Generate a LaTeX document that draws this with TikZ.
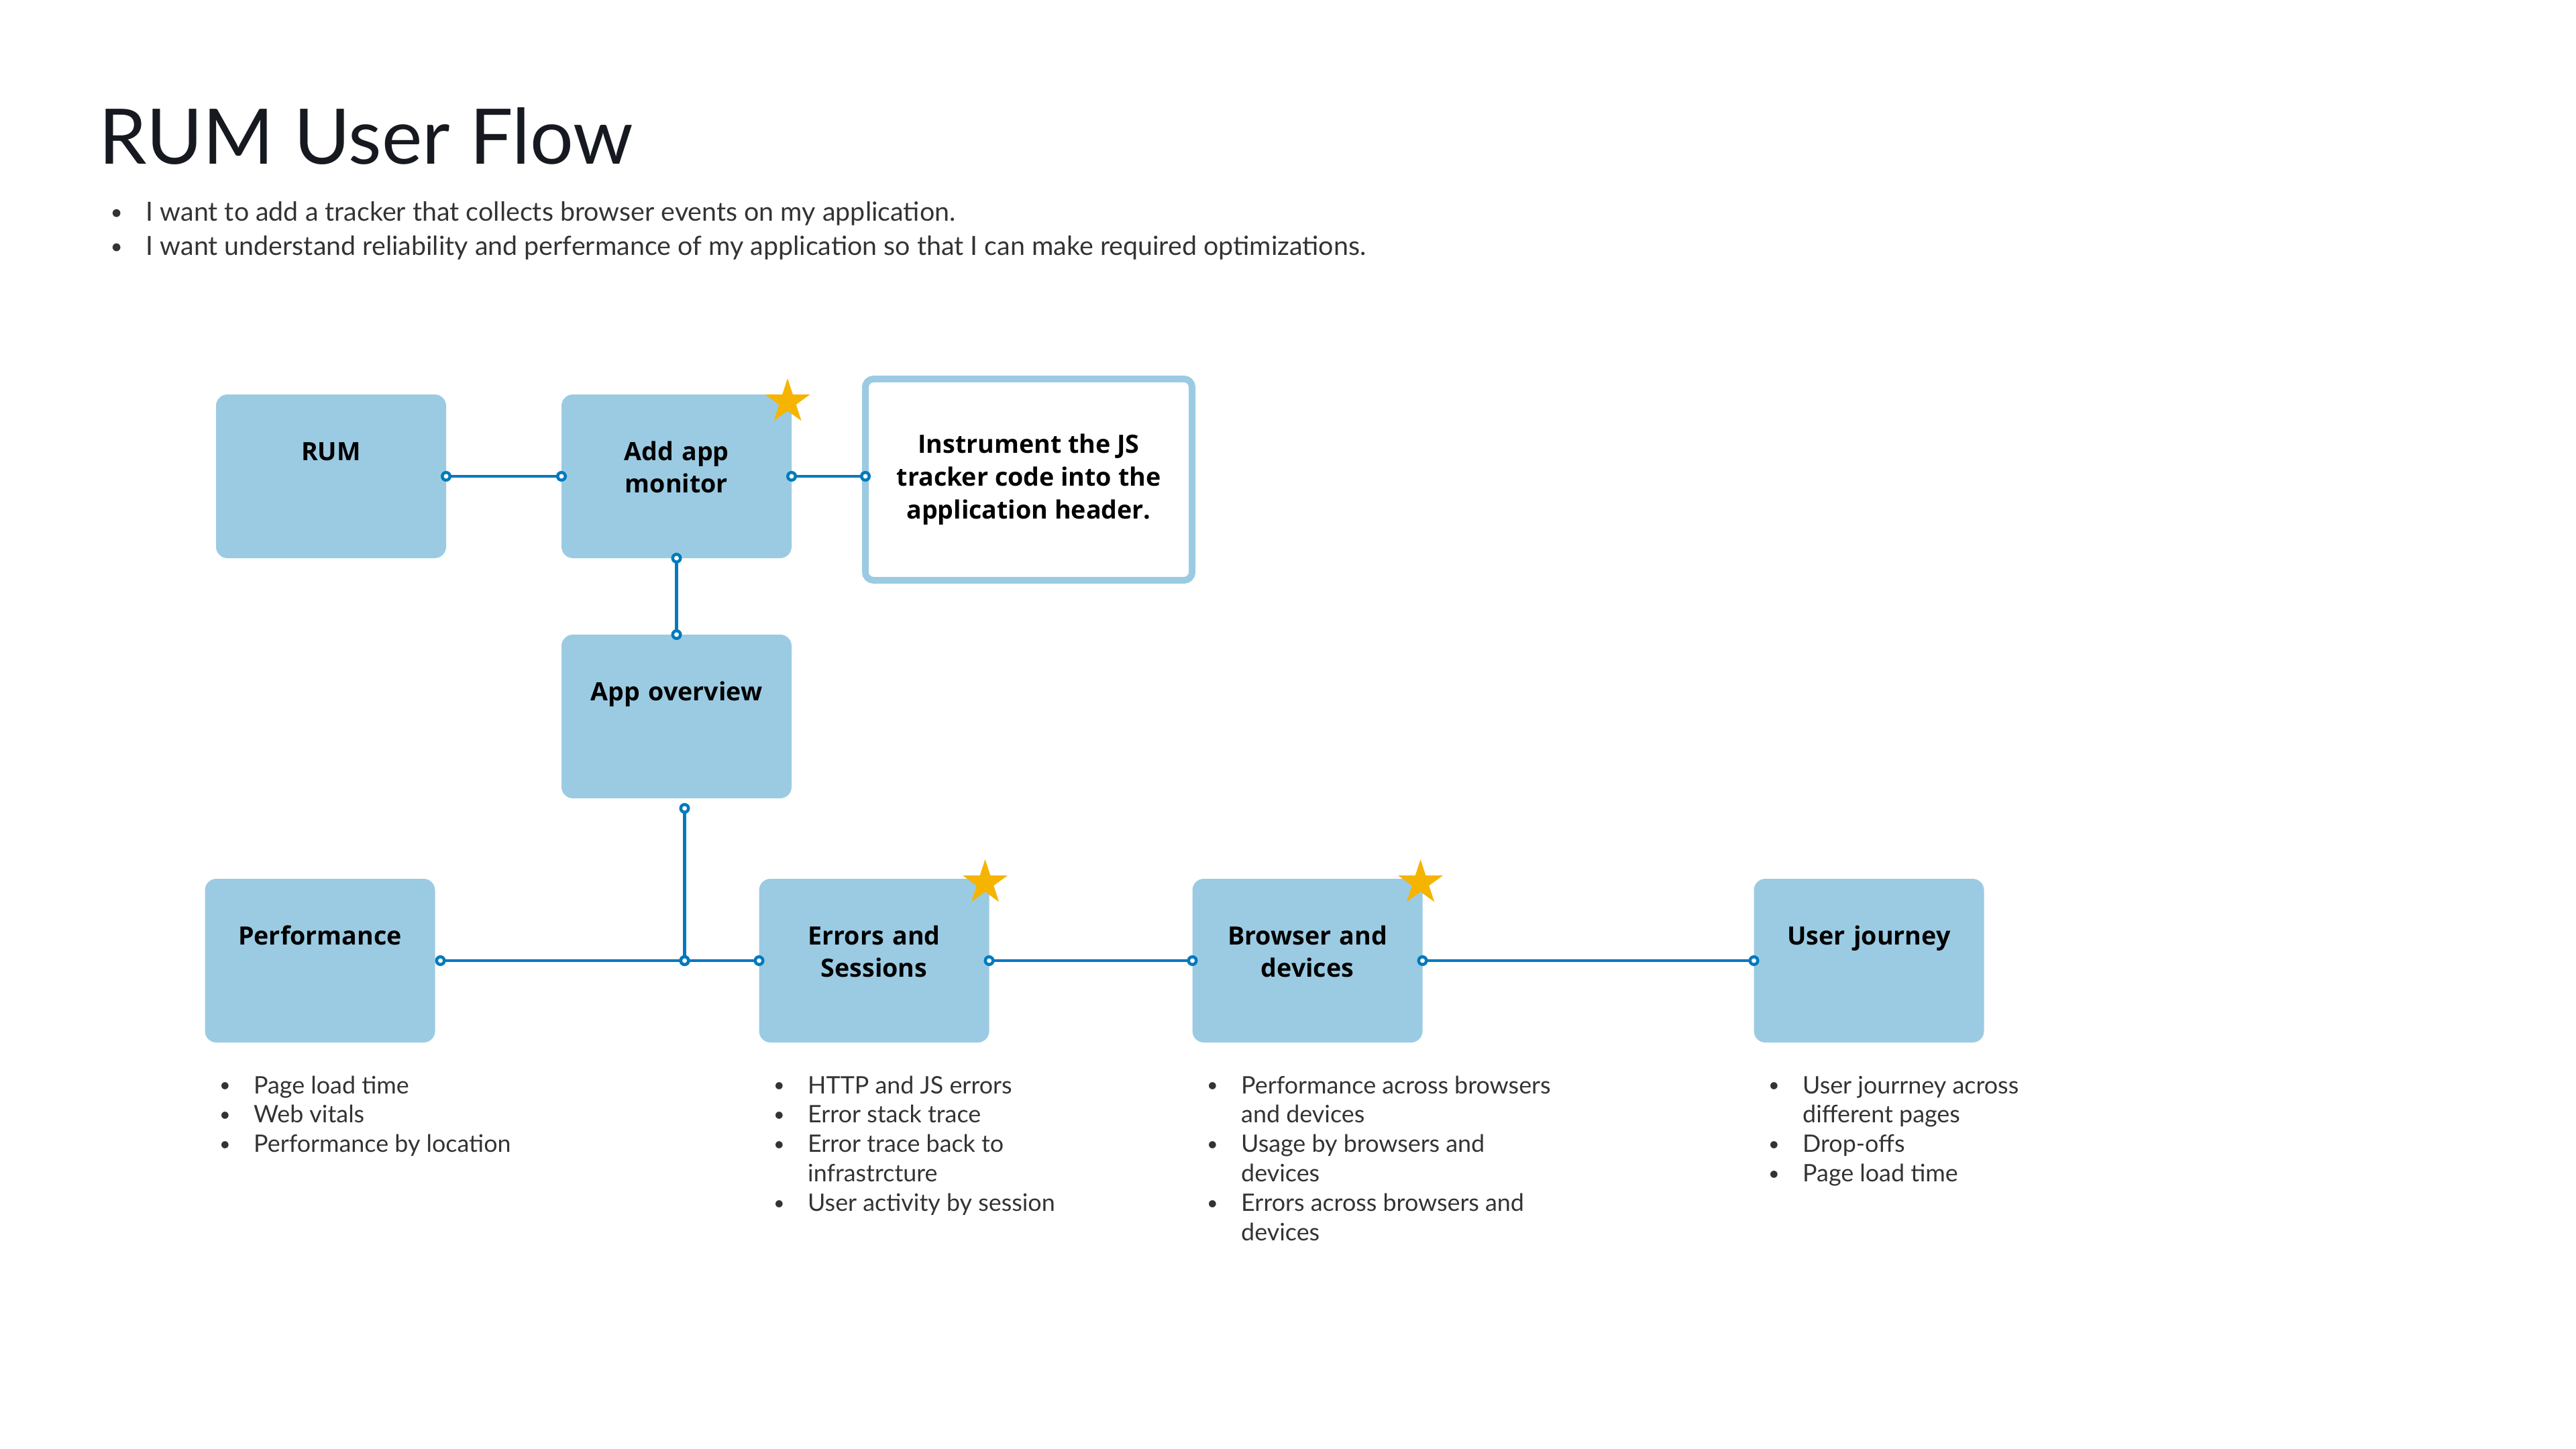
\documentclass[tikz,border=0pt]{standalone}
\usepackage{fontspec}
\setmainfont{Lato}
\newfontfamily\labelfont{Open Sans}
\usepackage{graphicx}
\usepackage{tikz}
\usetikzlibrary{positioning,shapes.geometric,arrows.meta}
\definecolor{boxblue}{HTML}{9BCBE3}
\definecolor{linkblue}{HTML}{007ABD}
\definecolor{staryellow}{HTML}{F5B400}
\definecolor{textgray}{HTML}{333333}
\definecolor{titlegray}{HTML}{16191F}
\newcommand{\dotmark}{\raisebox{0.06em}{\scalebox{0.8}{\textbullet}}}
\tikzset{
  blue box/.style={
    fill=boxblue,
    rounded corners=0.17cm,
    outer sep=0pt,
    text width=3.23cm,
    align=center,
    inner xsep=0.1cm,
    inner ysep=0.7cm,
    text height=0.28cm,
    text depth=0.76cm,
    font=\labelfont\fontsize{10.7}{13.9}\selectfont\bfseries,
  },
  note box/.style={
    draw=boxblue,
    line width=0.1cm,
    fill=white,
    rounded corners=0.12cm,
    outer sep=0pt,
    minimum width=4.87cm,
    minimum height=3cm,
    align=center,
    font=\labelfont\fontsize{10.7}{13.9}\selectfont\bfseries,
  },
  star mark/.style={
    star, star points=5, star point ratio=2.618,
    fill=staryellow, inner sep=0pt, minimum size=0.70cm,
  },
  link/.style={
    draw=linkblue,
    line width=0.045cm,
    >={Circle[open,fill=white,length=0.16cm,width=0.16cm]},
  },
  pins/.style={<->, shorten <=-0.08cm, shorten >=-0.08cm},
  item list/.style={
    anchor=base west,
    inner sep=0pt,
    text=textgray,
    font=\fontsize{10.2}{12.5}\selectfont,
  },
}

\begin{document}
\begin{tikzpicture}
  \useasboundingbox (0,0) rectangle (38.4,-21.6);

  \node [anchor=base west, inner sep=0pt, text=titlegray,
         font=\fontsize{32.5}{36}\selectfont] (title) at (1.47,-2.45) {RUM User Flow};
  \node [item list, font=\fontsize{11.2}{14.5}\selectfont] (intro) at (1.64,-3.30)
    {\begin{tabular}[t]{@{}p{0.53cm}@{}l@{}}
      \dotmark & I want to add a tracker that collects browser events on my application.\\
      \dotmark & I want understand reliability and perfermance of my application so that I can make required optimizations.
    \end{tabular}};

  \node [blue box] (rum) at (4.935,-7.10) {RUM};
  \node [blue box, right=1.72cm of rum] (add) {Add app\\monitor};
  \node [note box, right=1.10cm of add, yshift=-0.05cm] (instr)
    {Instrument the JS\\tracker code into the\\application header.};
  \node [blue box, below=1.14cm of add] (overview) {App overview};

  \node [blue box] (perf) at (4.77,-14.32) {Performance};
  \node [blue box, right=4.83cm of perf] (errors) {Errors and\\Sessions};
  \node [blue box, right=3.03cm of errors] (browser) {Browser and\\devices};
  \node [blue box, right=4.94cm of browser] (journey) {User journey};

  \node [star mark] (star1) at ([shift={(-0.06cm,-0.11cm)}]add.north east) {};
  \node [star mark] (star2) at ([shift={(-0.06cm,-0.06cm)}]errors.north east) {};
  \node [star mark] (star3) at ([shift={(-0.03cm,-0.06cm)}]browser.north east) {};

  \coordinate (ovout) at ([xshift=0.12cm,yshift=-0.15cm]overview.south);
  \coordinate (jct) at (ovout |- errors.west);
  \coordinate (listrow) at (0,-16.30);

  \draw [link, pins] (rum.east) -- (add.west);
  \draw [link, pins] (add.east) -- (add.east -| instr.west);
  \draw [link, pins] (add.south) -- (overview.north);
  \draw [link, pins] ([xshift=0.08cm]perf.east) -- (jct);
  \draw [link, pins] (jct) -- (errors.west);
  \draw [link, pins] (ovout) -- (jct);
  \draw [link, pins] (errors.east) -- (browser.west);
  \draw [link, pins] (browser.east) -- (journey.west);

  \node [item list, xshift=0.21cm] (perflist) at (perf.west |- listrow)
    {\begin{tabular}[t]{@{}p{0.51cm}@{}l@{}}
      \dotmark & Page load time\\
      \dotmark & Web vitals\\
      \dotmark & Performance by location
    \end{tabular}};
  \node [item list, xshift=0.21cm] (errlist) at (errors.west |- listrow)
    {\begin{tabular}[t]{@{}p{0.51cm}@{}l@{}}
      \dotmark & HTTP and JS errors\\
      \dotmark & Error stack trace\\
      \dotmark & Error trace back to\\
               & infrastrcture\\
      \dotmark & User activity by session
    \end{tabular}};
  \node [item list, xshift=0.21cm] (brlist) at (browser.west |- listrow)
    {\begin{tabular}[t]{@{}p{0.51cm}@{}l@{}}
      \dotmark & Performance across browsers\\
               & and devices\\
      \dotmark & Usage by browsers and\\
               & devices\\
      \dotmark & Errors across browsers and\\
               & devices
    \end{tabular}};
  \node [item list, xshift=0.21cm] (jrlist) at (journey.west |- listrow)
    {\begin{tabular}[t]{@{}p{0.51cm}@{}l@{}}
      \dotmark & User jourrney across\\
               & different pages\\
      \dotmark & Drop-offs\\
      \dotmark & Page load time
    \end{tabular}};
\end{tikzpicture}
\end{document}
